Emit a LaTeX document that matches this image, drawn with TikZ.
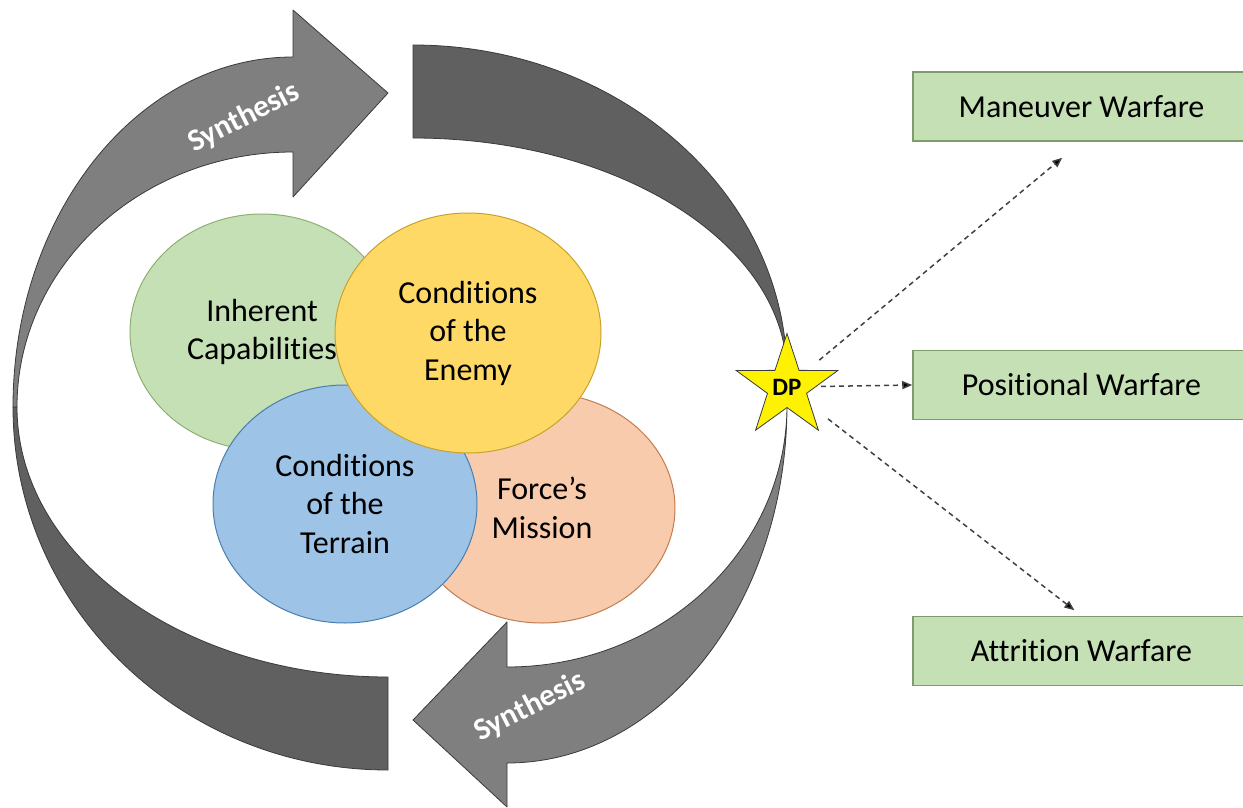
\documentclass[tikz,border=0pt]{standalone}
\usepackage{fontspec}
\setmainfont{Carlito}[Ligatures=NoCommon]
\usetikzlibrary{shapes.geometric,arrows.meta}
\definecolor{lightarr}{HTML}{7F7F7F}
\definecolor{darkarr}{HTML}{606060}
\definecolor{arredge}{HTML}{3A3A3A}
\definecolor{cgreen}{HTML}{C5E0B4}
\definecolor{cgreenedge}{HTML}{8DAF72}
\definecolor{cyellow}{HTML}{FFD966}
\definecolor{cyellowedge}{HTML}{C9A22A}
\definecolor{cblue}{HTML}{9DC3E6}
\definecolor{cblueedge}{HTML}{4A7EB0}
\definecolor{corange}{HTML}{F8CBAD}
\definecolor{corangeedge}{HTML}{C27C52}
\definecolor{boxedge}{HTML}{7D9D6A}
\definecolor{dashcol}{HTML}{404040}
\begin{document}
\begin{tikzpicture}[x=1pt,y=-1pt,
  lightarrow/.style={fill=lightarr,draw=arredge,line width=0.8pt,line join=round},
  darkarrow/.style={fill=darkarr,draw=arredge,line width=0.8pt,line join=round},
  bubble/.style={ellipse,line width=1pt,inner sep=0pt,align=center,
    font=\fontsize{32}{38.5}\selectfont},
  warbox/.style={rectangle,fill=cgreen,draw=boxedge,line width=1.5pt,
    minimum width=337pt,minimum height=69pt,inner sep=0pt,
    font=\fontsize{32}{36}\selectfont},
  synth/.style={text=white,font=\bfseries\fontsize{31}{34}\selectfont,inner sep=0pt},
  dasharrow/.style={draw=dashcol,line width=1.5pt,dash pattern=on 5pt off 4pt,
    -{Triangle[length=10pt,width=8pt,fill=black,sep=0pt]}}
]
\useasboundingbox (0,0) rectangle (1243,808);
\clip (0,0) rectangle (1243,808);

% circular arrows
\draw[darkarrow] (413,45) .. controls (619,45) and (787,193) .. (787,375)
  .. controls (787,244) and (619,138) .. (413,138) -- cycle;
\draw[darkarrow] (13,407) .. controls (13,607) and (181,770) .. (388,770)
  -- (388,677) .. controls (183,677) and (17,556) .. (17,407) -- cycle;
\draw[lightarrow] (13,407) .. controls (13,214) and (138,57) .. (293,57)
  -- (293,10) -- (388,93) -- (293,197) -- (293,152)
  .. controls (141,152) and (17,266) .. (17,407) -- cycle;
\draw[lightarrow] (787,405) .. controls (787,603) and (662,763) .. (507,763)
  -- (507,807) -- (413,720) -- (507,622) -- (507,667)
  .. controls (662,667) and (787,550) .. (787,405) -- cycle;

\node[synth,rotate=27] (s1) at (244,118) {Synthesis};
\node[synth,rotate=27] (s2) at (530,707) {Synthesis};

% bubbles
\node[bubble,fill=cgreen,draw=cgreenedge,minimum width=264pt,minimum height=236pt]
  (inh) at (262,332) {Inherent\\Capabilities};
\node[bubble,fill=corange,draw=corangeedge,minimum width=266pt,minimum height=230pt]
  (mis) at (542,508) {Force’s\\Mission};
\node[bubble,fill=cblue,draw=cblueedge,minimum width=264pt,minimum height=238pt]
  (ter) at (345,504) {Conditions\\of the\\Terrain};
\node[bubble,fill=cyellow,draw=cyellowedge,minimum width=266pt,minimum height=240pt]
  (ene) at (468,333) {Conditions\\of the\\Enemy};

% decision point
\node[star,star points=5,star point ratio=2.6,minimum size=90pt,inner sep=0pt,
  fill=yellow,draw=arredge,line width=0.8pt,font=\bfseries\fontsize{25}{25}\selectfont]
  (dp) at (787,387) {DP};

% boxes
\node[warbox] (mw) at (1081.5,106.5) {Maneuver Warfare};
\node[warbox] (pw) at (1081.5,385) {Positional Warfare};
\node[warbox] (aw) at (1081.5,651) {Attrition Warfare};

\draw[dasharrow,shorten <=42pt,shorten >=25pt] (dp.center) -- (mw.south);
\draw[dasharrow,shorten <=34pt] (dp.center) -- (pw.west);
\draw[dasharrow,shorten <=52pt,shorten >=9pt] (dp.center) -- (aw.north);
\end{tikzpicture}
\end{document}
